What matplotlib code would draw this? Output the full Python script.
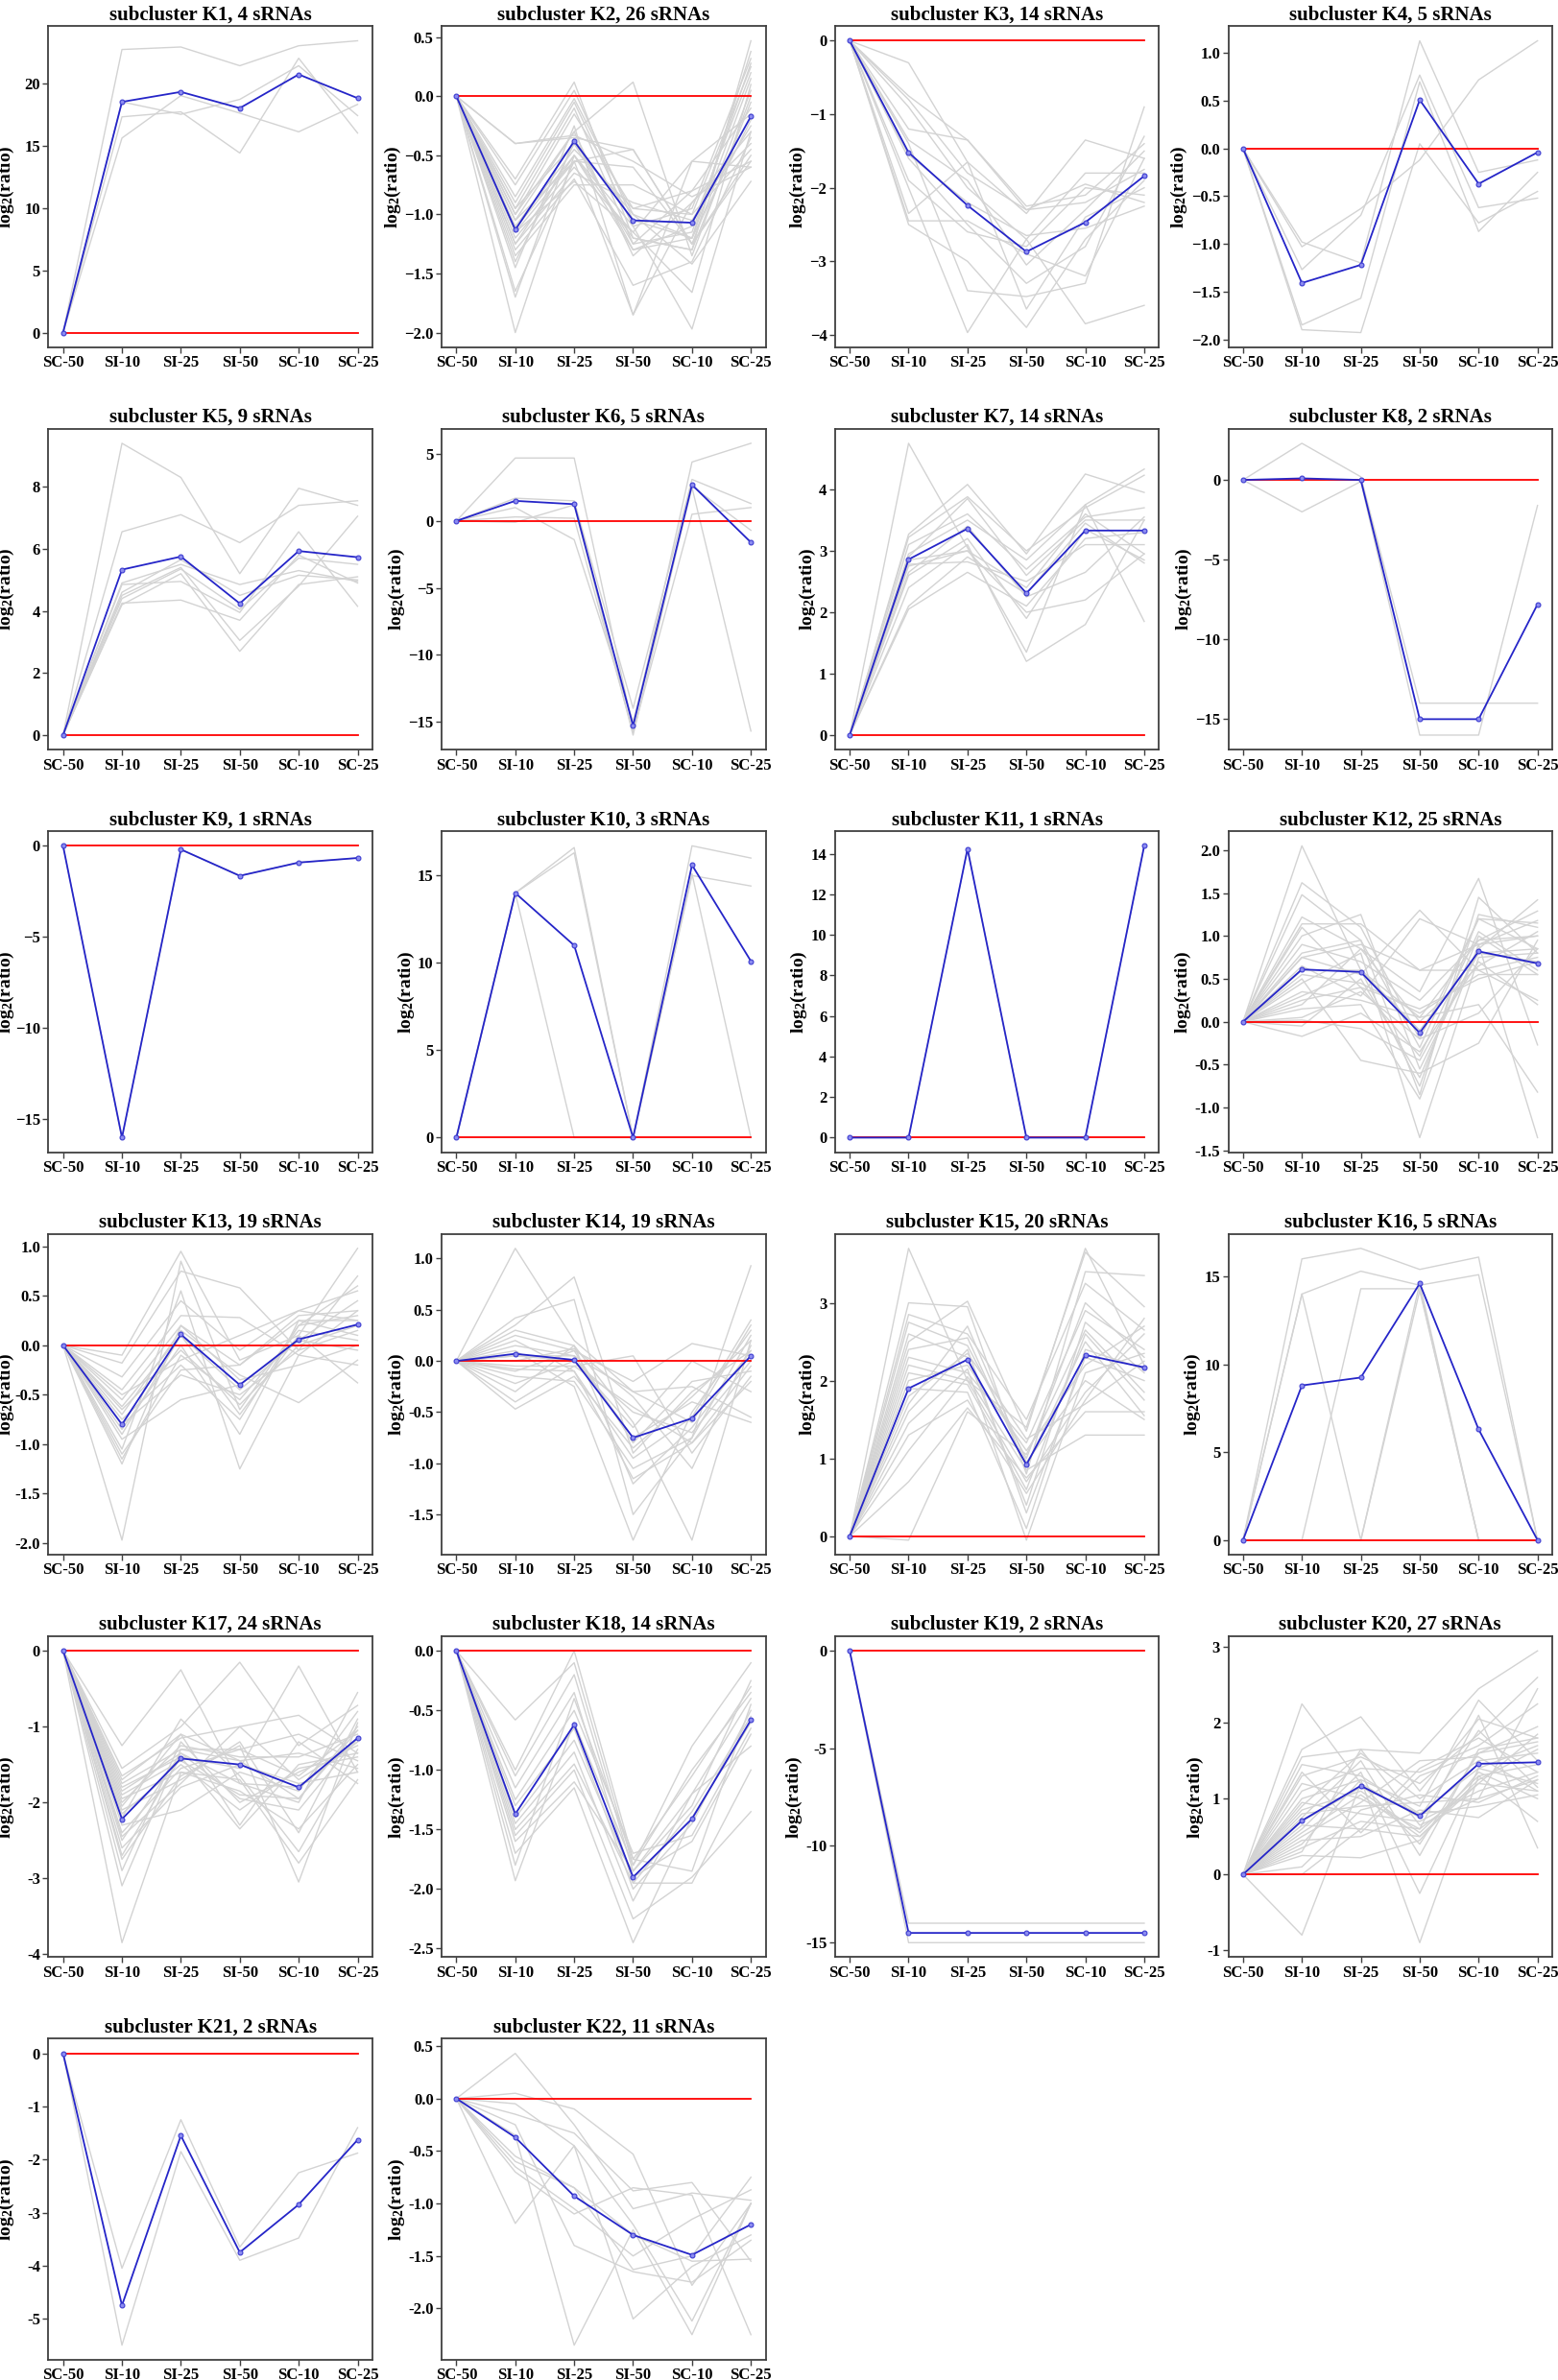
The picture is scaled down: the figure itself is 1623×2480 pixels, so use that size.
import numpy as np
import matplotlib
matplotlib.use('Agg')
from matplotlib import pyplot as plt
from matplotlib.ticker import MultipleLocator

plt.rcParams['font.family'] = ['Liberation Serif', 'DejaVu Serif']
plt.rcParams['font.weight'] = 'bold'
plt.rcParams['mathtext.fontset'] = 'custom'
plt.rcParams['mathtext.rm'] = 'Liberation Serif:bold'
plt.rcParams['mathtext.default'] = 'rm'

samples = ['SC-50', 'SI-10', 'SI-25', 'SI-50', 'SC-10', 'SC-25']
counts = [4, 26, 14, 5, 9, 5, 14, 2, 1, 3, 1, 25, 19, 19, 20, 5, 24, 14, 2, 27, 2, 11]
# y tick spacing of each panel
y_steps = [5, 0.5, 1, 0.5, 2, 5, 1, 5, 5, 5, 2, 0.5, 0.5, 0.5, 1, 5, 1, 0.5, 5, 1, 1, 0.5]

# cluster centres (blue), values at SI-10 .. SC-25 (SC-50 is always 0)
k_means = [
    [18.5, 19.3, 18.0, 20.7, 18.8],
    [-1.13, -0.38, -1.05, -1.07, -0.17],
    [-1.52, -2.24, -2.87, -2.47, -1.84],
    [-1.41, -1.22, 0.51, -0.37, -0.04],
    [5.33, 5.75, 4.24, 5.93, 5.73],
    [1.5, 1.25, -15.3, 2.7, -1.6],
    [2.86, 3.36, 2.31, 3.33, 3.33],
    [0.1, 0.0, -15.0, -15.0, -7.8],
    [-16.05, -0.2, -1.65, -0.92, -0.67],
    [14.0, 11.0, 0.0, 15.6, 10.1],
    [0.0, 14.25, 0.0, 0.0, 14.4],
    [0.61, 0.58, -0.13, 0.82, 0.68],
    [-0.8, 0.11, -0.4, 0.06, 0.21],
    [0.07, 0.01, -0.75, -0.56, 0.05],
    [1.9, 2.27, 0.92, 2.33, 2.17],
    [8.8, 9.25, 14.6, 6.3, 0.0],
    [-2.22, -1.42, -1.5, -1.8, -1.15],
    [-1.37, -0.62, -1.9, -1.41, -0.58],
    [-14.5, -14.5, -14.5, -14.5, -14.5],
    [0.71, 1.17, 0.77, 1.46, 1.48],
    [-4.75, -1.55, -3.75, -2.85, -1.63],
    [-0.37, -0.93, -1.3, -1.49, -1.2],
]

# member sRNA profiles (grey), values at SI-10 .. SC-25
k1 = [[22.7, 22.9, 21.4, 23.0, 23.4], [18.5, 17.5, 18.7, 21.4, 17.4],
      [17.3, 17.7, 14.4, 22.0, 16.0], [15.6, 19.0, 17.6, 16.1, 18.3]]
k2 = [[-0.40, -0.33, -0.55, -0.85, -0.60], [-0.40, -0.35, -0.45, -1.25, 0.05],
      [-0.70, 0.12, -1.20, -1.30, 0.47], [-0.75, 0.05, -1.05, -1.20, 0.38],
      [-0.90, -0.05, -1.10, -0.95, 0.32], [-0.95, -0.10, -1.25, -1.15, 0.28],
      [-1.00, -0.15, -0.95, -1.00, 0.25], [-1.05, -0.30, 0.12, -1.35, 0.00],
      [-1.10, -0.45, -0.95, -0.80, -0.10], [-1.12, -0.50, -1.30, -1.20, -0.20],
      [-1.15, -0.55, -0.45, -1.25, -0.55], [-1.20, -0.60, -1.15, -0.55, -0.60],
      [-1.25, -0.65, -0.90, -1.05, -0.25], [-1.30, -0.70, -1.60, -1.40, -0.35],
      [-1.35, -0.75, -0.75, -1.00, -0.45], [-1.45, -0.25, -1.85, -0.90, -0.40],
      [-1.65, -0.55, -1.85, -0.55, -0.15], [-1.70, -0.35, -1.30, -1.10, 0.20],
      [-2.00, -0.50, -1.10, -1.97, -0.30], [-0.95, -0.40, -1.00, -1.42, -0.72],
      [-1.05, -0.55, -0.60, -1.25, -0.50], [-1.15, -0.72, -1.15, -1.66, 0.10],
      [-1.25, -0.50, -1.20, -1.30, -0.05], [-0.85, -0.02, -1.00, -1.20, 0.15],
      [-1.00, -0.30, -1.35, -0.90, -0.30], [-1.40, -0.40, -1.25, -0.80, -0.55]]
k3 = [[-0.30, -1.65, -2.35, -1.35, -1.60], [-0.75, -1.35, -2.25, -2.10, -1.40],
      [-0.80, -1.80, -2.30, -2.20, -1.75], [-0.90, -2.00, -2.70, -1.80, -1.80],
      [-1.20, -1.35, -2.30, -1.95, -2.20], [-1.35, -1.90, -3.05, -2.30, -1.50],
      [-1.40, -3.40, -3.48, -3.30, -0.90], [-1.55, -2.20, -2.65, -2.55, -2.25],
      [-1.60, -2.50, -3.30, -2.80, -1.30], [-2.00, -3.97, -2.70, -3.85, -3.60],
      [-2.35, -1.65, -3.65, -2.40, -2.00], [-2.45, -2.45, -2.90, -3.20, -1.60],
      [-2.50, -3.00, -3.90, -2.70, -1.90], [-1.90, -2.60, -2.80, -2.00, -2.10]]
k4 = [[-1.03, -0.63, -0.12, 0.72, 1.13], [-0.98, -1.20, 1.13, -0.25, -0.12],
      [-1.27, -0.70, 0.77, -0.62, -0.52], [-1.85, -1.57, 0.70, -0.87, -0.25],
      [-1.90, -1.93, 0.05, -0.78, -0.45]]
k5 = [[9.4, 8.3, 5.2, 7.95, 7.4], [6.55, 7.1, 6.2, 7.4, 7.55],
      [4.9, 5.5, 4.85, 5.3, 4.95], [4.85, 4.95, 3.95, 6.55, 4.15],
      [4.6, 5.65, 4.5, 5.15, 5.0], [4.5, 5.4, 3.05, 4.8, 7.05],
      [4.4, 5.35, 4.05, 5.7, 5.5], [4.25, 4.35, 3.7, 5.8, 4.9],
      [4.2, 5.2, 2.7, 4.85, 5.1]]
k6 = [[4.7, 4.7, -15.5, 4.4, 5.8], [1.7, 1.5, -14.0, 3.1, 1.3],
      [1.0, -1.4, -15.0, 2.5, -15.7], [0.3, 0.2, -15.8, 0.5, 1.0],
      [-0.1, 1.2, -16.0, 2.6, -0.7]]
k7 = [[4.75, 3.05, 1.35, 3.75, 4.33], [3.27, 4.08, 2.95, 4.25, 3.95],
      [3.22, 3.88, 3.00, 3.70, 4.23], [3.10, 3.60, 2.70, 3.55, 3.70],
      [2.95, 3.50, 2.85, 3.75, 1.85], [2.90, 3.85, 2.60, 3.50, 3.50],
      [2.85, 3.00, 2.40, 3.60, 2.95], [2.78, 2.82, 2.50, 3.10, 3.10],
      [2.75, 3.00, 2.00, 2.20, 2.95], [2.65, 3.40, 2.25, 2.65, 3.55],
      [2.60, 3.20, 1.90, 3.35, 2.85], [2.40, 3.10, 1.20, 1.80, 3.50],
      [2.10, 2.90, 2.30, 3.45, 2.80], [2.05, 2.65, 2.10, 3.20, 3.30]]
k8 = [[2.3, 0.2, -14.0, -14.0, -14.0], [-2.0, -0.1, -16.0, -16.0, -1.6]]
k9 = [[-16.05, -0.2, -1.65, -0.92, -0.67]]
k10 = [[14.0, 16.6, 0.0, 16.7, 16.0], [14.0, 16.3, 0.0, 15.0, 14.4],
       [14.0, 0.0, 0.0, 15.1, 0.0]]
k11 = [[0.0, 14.25, 0.0, 0.0, 14.4]]
k12 = [[2.05, 0.60, 0.05, 0.95, 1.00], [1.62, 1.10, -0.20, 1.20, 0.85],
       [1.48, 0.95, -0.85, 1.45, 0.80], [1.22, 0.85, 0.35, 1.67, -0.27],
       [1.14, 1.14, 0.60, 0.90, 1.18], [1.10, 0.40, -0.40, 1.05, 0.60],
       [1.00, 1.25, -0.55, 0.85, 1.42], [0.90, 0.70, 0.25, 0.95, 1.29],
       [0.80, 0.95, -0.30, 1.20, 1.15], [0.75, 0.55, 1.30, 0.60, 0.75],
       [0.65, 0.30, 1.20, 0.90, 1.00], [0.60, 0.60, -0.10, 0.80, 0.85],
       [0.55, 0.45, 0.10, 0.55, 0.55], [0.50, -0.45, -0.60, -0.25, 0.95],
       [0.45, 0.80, -1.35, 0.75, 0.80], [0.35, 0.25, 0.05, 0.20, -0.82],
       [0.30, 0.60, -0.75, 1.25, 1.10], [0.25, 0.40, 0.15, 0.50, 0.70],
       [0.20, 0.85, 0.00, 0.65, 1.05], [0.15, 0.20, -0.90, 0.90, -1.35],
       [0.05, 0.35, -0.20, 0.10, 0.85], [0.02, -0.08, -0.45, 0.80, 0.70],
       [-0.05, 0.50, -0.65, 1.00, 0.55], [-0.17, 0.10, -0.35, 0.70, 0.20],
       [0.75, 0.90, 0.60, 0.60, 0.25]]
k13 = [[-0.10, 0.95, -0.15, 0.10, 0.98], [-0.18, 0.75, 0.58, -0.05, 0.70],
       [-0.32, 0.45, -0.05, 0.35, 0.55], [-0.45, 0.30, 0.28, -0.10, 0.35],
       [-0.55, 0.20, -0.20, 0.25, 0.25], [-0.62, 0.10, -0.45, 0.05, -0.05],
       [-0.65, -0.05, -0.60, 0.00, 0.20], [-0.70, 0.15, -0.30, -0.58, -0.15],
       [-0.75, -0.20, -0.75, 0.20, 0.60], [-0.80, -0.30, -0.50, -0.05, 0.15],
       [-0.85, 0.00, -0.90, 0.25, 0.10], [-0.90, 0.10, -0.70, 0.10, -0.38],
       [-0.95, -0.55, -0.40, 0.05, 0.45], [-1.05, 0.55, -1.25, -0.10, -0.20],
       [-1.10, -0.25, -0.20, 0.30, 0.35], [-1.15, -0.10, -0.55, 0.15, 0.05],
       [-1.20, 0.20, -0.35, -0.20, 0.00], [-1.97, 0.85, -0.65, 0.20, 0.30],
       [-0.50, -0.15, 0.10, 0.35, 0.25]]
k14 = [[1.10, 0.20, -0.30, -0.60, 0.35], [0.42, 0.60, -1.50, -0.75, 0.93],
       [0.35, 0.82, -0.90, -0.30, 0.10], [0.30, 0.15, -0.60, -1.75, 0.20],
       [0.25, 0.10, -0.20, 0.17, 0.05], [0.20, -0.10, -1.15, -0.80, -0.20],
       [0.15, 0.05, -0.75, -0.40, -0.60], [0.10, -0.25, -1.75, -0.50, 0.30],
       [0.05, 0.00, -0.50, -0.70, 0.00], [0.00, 0.12, -0.35, -1.05, 0.15],
       [-0.05, -0.05, 0.05, -0.90, -0.15], [-0.08, -0.10, -0.95, -0.55, 0.40],
       [-0.10, 0.10, -0.80, -0.20, -0.10], [-0.15, -0.20, -1.05, -0.75, 0.25],
       [-0.22, 0.00, -0.65, 0.00, -0.30], [-0.30, 0.15, -1.20, -0.65, 0.10],
       [-0.40, -0.05, -0.45, -0.80, -0.05], [-0.47, -0.15, -0.85, -0.35, 0.20],
       [0.05, 0.05, -0.30, -0.25, -0.55]]
k15 = [[3.70, 2.00, 1.40, 3.65, 2.95], [3.00, 2.95, 0.80, 3.40, 3.35],
       [2.85, 2.60, 1.50, 3.25, 2.65], [2.75, 2.45, 1.00, 3.00, 2.30],
       [2.60, 2.30, 0.40, 2.75, 2.10], [2.40, 2.55, 0.90, 2.50, 1.55],
       [2.30, 2.10, 1.20, 2.90, 2.40], [2.20, 2.00, 0.70, 1.85, 2.60],
       [2.10, 1.95, 0.60, 2.60, 1.75], [2.00, 2.20, 1.10, 2.20, 2.70],
       [1.90, 1.85, 0.10, 2.40, 2.15], [1.80, 2.35, 1.25, 1.70, 2.25],
       [1.70, 2.70, 0.95, 2.00, 1.50], [1.60, 2.40, 0.30, 2.30, 2.00],
       [1.45, 2.15, -0.05, 2.10, 2.35], [1.30, 1.75, 0.55, 1.75, 2.80],
       [1.10, 2.05, 0.85, 1.30, 1.30], [0.70, 1.65, 0.75, 1.60, 1.60],
       [-0.05, 1.60, 1.05, 2.65, 1.85], [2.50, 3.02, 1.35, 3.70, 2.20]]
k16 = [[16.0, 16.6, 15.4, 16.1, 0.0], [14.0, 15.3, 14.5, 15.1, 0.0],
       [14.0, 0.0, 14.6, 0.0, 0.0], [0.0, 14.3, 14.3, 0.0, 0.0],
       [0.0, 0.0, 14.2, 0.0, 0.0]]
k17 = [[-1.25, -0.25, -1.75, -2.00, -0.55], [-1.55, -1.00, -0.15, -1.25, -0.72],
       [-1.65, -1.15, -1.00, -0.85, -1.35], [-1.75, -1.30, -1.30, -1.65, -1.05],
       [-1.80, -1.40, -1.55, -0.20, -1.60], [-1.85, -1.35, -1.75, -1.80, -1.20],
       [-1.90, -1.45, -1.90, -1.95, -1.00], [-1.95, -1.60, -1.85, -2.35, -1.50],
       [-2.00, -1.25, -1.40, -1.40, -1.10], [-2.05, -1.10, -2.30, -1.20, -1.75],
       [-2.10, -1.70, -1.20, -2.40, -0.90], [-2.15, -1.50, -2.10, -1.55, -1.40],
       [-2.20, -0.90, -1.65, -2.65, -1.30], [-2.30, -2.10, -1.60, -1.85, -0.80],
       [-2.40, -1.55, -1.30, -1.10, -1.45], [-2.50, -1.35, -1.95, -2.10, -1.15],
       [-2.60, -1.80, -1.50, -1.75, -1.60], [-2.75, -1.65, -1.25, -3.05, -0.95],
       [-2.90, -1.20, -2.00, -1.60, -1.25], [-3.10, -1.30, -1.45, -1.95, -1.05],
       [-3.85, -1.60, -1.70, -2.80, -1.70], [-1.70, -1.10, -1.45, -1.35, -1.55],
       [-2.45, -1.75, -1.00, -1.70, -1.20], [-2.70, -1.40, -2.35, -1.50, -1.35]]
k18 = [[-0.58, -0.10, -1.80, -0.80, -0.10], [-1.00, 0.00, -1.75, -1.05, -0.30],
       [-1.05, -0.20, -1.85, -1.20, -0.40], [-1.15, -0.35, -1.95, -1.35, -0.55],
       [-1.25, -0.50, -1.70, -1.55, -0.65], [-1.30, -0.65, -2.00, -1.45, -0.50],
       [-1.40, -0.75, -1.90, -1.60, -0.70], [-1.45, -0.85, -2.10, -1.20, -0.80],
       [-1.50, -0.95, -1.95, -1.95, -1.00], [-1.55, -1.00, -2.25, -1.90, -1.35],
       [-1.60, -1.10, -1.85, -1.30, -0.25], [-1.70, -1.15, -2.45, -1.40, -0.60],
       [-1.80, -0.40, -1.75, -1.85, -0.45], [-1.93, -0.60, -1.80, -1.00, -0.35]]
k19 = [[-14.0, -14.0, -14.0, -14.0, -14.0], [-15.0, -15.0, -15.0, -15.0, -15.0]]
k20 = [[2.25, 1.20, 0.40, 1.60, 1.95], [1.65, 2.08, 1.10, 2.05, 1.80],
       [1.55, 1.65, 1.60, 2.45, 2.95], [1.45, 1.30, 0.80, 1.40, 1.20],
       [1.30, 1.55, 1.20, 1.85, 2.60], [1.20, 1.00, 0.60, 1.20, 1.10],
       [1.10, 1.40, 1.35, 1.70, 2.25], [1.00, 1.25, 0.90, 2.30, 1.50],
       [0.95, 0.80, 0.70, 1.10, 1.35], [0.90, 1.60, 1.00, 1.50, 1.60],
       [0.85, 1.10, 0.55, 1.30, 0.70], [0.80, 0.90, 0.95, 1.00, 1.25],
       [0.75, 1.50, 0.25, 1.65, 1.80], [0.70, 1.15, 0.80, 0.90, 1.05],
       [0.65, 0.60, 1.40, 1.80, 1.35], [0.60, 1.35, -0.25, 1.40, 1.70],
       [0.55, 1.05, 0.50, 1.20, 1.85], [0.50, 0.95, 1.50, 1.55, 1.10],
       [0.45, 0.50, 0.85, 0.75, 1.25], [0.40, 1.25, -0.90, 1.30, 1.45],
       [0.35, 0.70, 0.60, 2.10, 0.35], [0.30, 1.65, 0.65, 1.00, 2.45],
       [0.25, 0.22, 0.45, 1.35, 1.00], [0.10, 0.85, 1.05, 0.95, 1.30],
       [0.00, 0.60, 0.50, 1.25, 1.65], [-0.80, 1.20, 0.75, 1.90, 1.15],
       [1.35, 0.55, 1.30, 1.60, 1.75]]
k21 = [[-4.05, -1.25, -3.65, -2.25, -1.88], [-5.5, -1.85, -3.9, -3.48, -1.40]]
k22 = [[0.43, -0.25, -1.05, -0.90, -0.97], [0.05, -0.10, -0.53, -1.78, -1.00],
       [-0.05, -0.45, -1.20, -2.12, -1.00], [-0.15, -0.33, -0.88, -0.80, -1.55],
       [-0.25, -1.40, -1.65, -1.75, -1.35], [-0.55, -0.85, -1.30, -1.55, -1.53],
       [-0.65, -1.05, -1.50, -1.15, -0.87], [-0.70, -1.10, -0.85, -0.92, -2.25],
       [-0.60, -0.85, -1.63, -1.50, -0.75], [-1.19, -0.45, -2.10, -1.60, -1.30],
       [-0.35, -2.35, -1.25, -2.25, -1.00]]

members = [k1, k2, k3, k4, k5, k6, k7, k8, k9, k10, k11,
           k12, k13, k14, k15, k16, k17, k18, k19, k20, k21, k22]

fig = plt.figure(figsize=(16.24, 24.8), dpi=100)
gs = fig.add_gridspec(6, 4, left=0.031, right=0.9957, top=0.989, bottom=0.0085,
                      wspace=0.214, hspace=0.254)
x = np.arange(len(samples))

for i in range(22):
    ax = fig.add_subplot(gs[i // 4, i % 4])
    for row in members[i]:
        ax.plot(x, [0] + row, color='#d3d3d3', lw=1.0, zorder=1)
    ax.plot([x[0], x[-1]], [0, 0], color='red', lw=1.3, zorder=2)
    ax.plot(x, [0] + k_means[i], color='#2525c8', lw=1.3, marker='o', ms=3.5,
            mfc='#8c8cf0', mec='#3b3bd0', mew=0.8, zorder=3)

    ax.set_title('subcluster K%d, %d sRNAs' % (i + 1, counts[i]),
                 fontsize=15, fontweight='bold', pad=5)
    ax.set_ylabel('log$_2$(ratio)', fontsize=14, fontweight='bold', labelpad=1)
    if i % 4 == 0:
        # first column: label kept at a fixed spot next to the page edge
        ax.yaxis.set_label_coords(-0.098, 0.5)
    ax.set_xticks(x)
    ax.set_xticklabels(samples, fontsize=12, fontweight='bold')

    # y tick labels: early panels use a true minus, later ones a hyphen
    step = y_steps[i]
    ax.yaxis.set_major_locator(MultipleLocator(step))
    lo, hi = ax.get_ylim()
    ticks = [t for t in ax.get_yticks() if lo - 1e-9 <= t <= hi + 1e-9]
    if step < 1:
        labels = ['%.1f' % t for t in ticks]
    else:
        labels = ['%d' % round(t) for t in ticks]
    labels = [l.replace('-0.0', '0.0') for l in labels]
    if i < 11:
        labels = [l.replace('-', '\u2212') for l in labels]
    ax.set_yticks(ticks)
    ax.set_yticklabels(labels, fontsize=12, fontweight='bold')
    ax.set_ylim(lo, hi)

    ax.tick_params(axis='both', length=4, width=1, color='#404040', pad=2)
    for s in ax.spines.values():
        s.set_color('#404040')
        s.set_linewidth(1.3)

fig.savefig('out.png', dpi=100)
